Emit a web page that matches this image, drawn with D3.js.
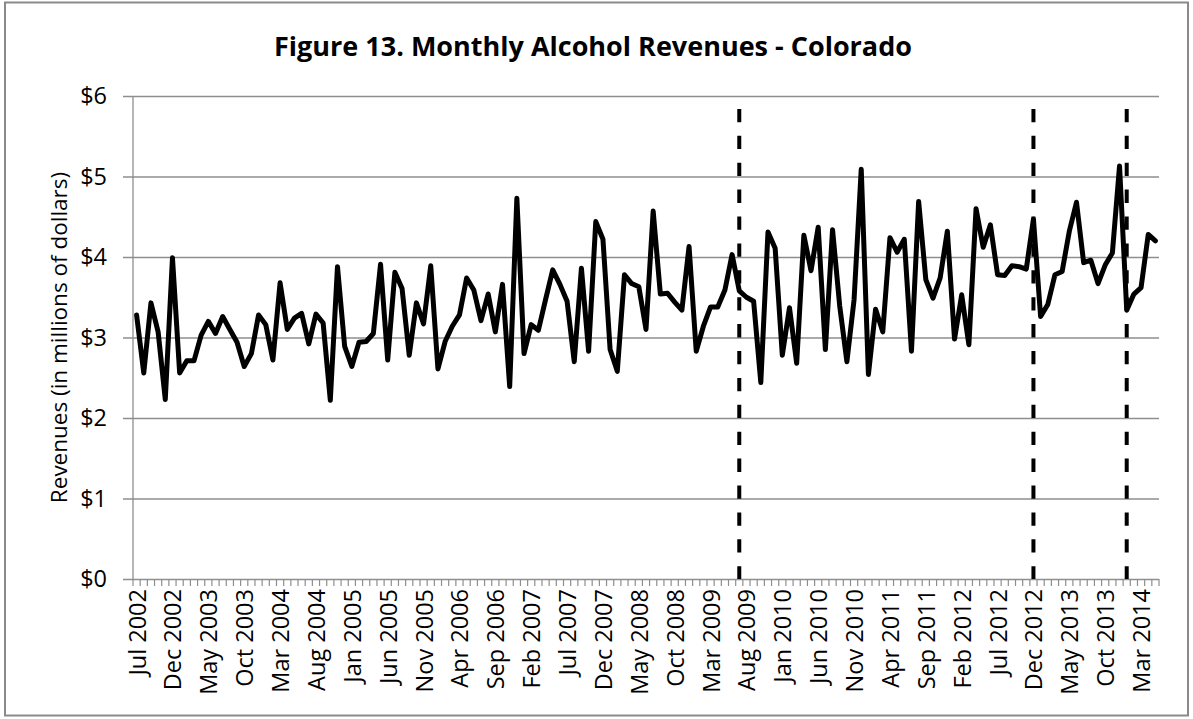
<!DOCTYPE html>
<html><head><meta charset="utf-8">
<script src="https://cdn.jsdelivr.net/npm/d3@7"></script>
<style>html,body{margin:0;padding:0;background:#fff;}svg{display:block;}</style>
</head><body>
<svg id="chart" width="1193" height="719"></svg>
<script>
// ---- data ----
const title = "Figure 13. Monthly Alcohol Revenues - Colorado";
const yTitle = "Revenues (in millions of dollars)";
const startMonth = new Date(2002, 6, 1);   // Jul 2002
const revenues = [
 3.28,2.56,3.43,3.07,2.23,3.99,2.56,2.71,2.71,3.03,3.20,3.05,3.26,3.10,2.94,2.64,2.80,3.28,3.16,2.72,
 3.68,3.10,3.24,3.30,2.92,3.29,3.18,2.22,3.88,2.89,2.64,2.94,2.95,3.05,3.91,2.72,3.81,3.61,2.78,3.43,
 3.17,3.89,2.61,2.95,3.14,3.28,3.74,3.59,3.21,3.54,3.07,3.66,2.39,4.73,2.80,3.16,3.09,3.47,3.84,3.66,
 3.45,2.70,3.86,2.83,4.44,4.22,2.85,2.58,3.78,3.67,3.63,3.10,4.57,3.54,3.55,3.44,3.34,4.13,2.83,3.14,
 3.38,3.38,3.59,4.03,3.58,3.50,3.45,2.44,4.31,4.11,2.78,3.37,2.68,4.27,3.83,4.37,2.85,4.34,3.39,2.70,
 3.47,5.09,2.54,3.35,3.07,4.24,4.06,4.22,2.83,4.69,3.72,3.49,3.74,4.32,2.98,3.53,2.91,4.60,4.12,4.40,
 3.78,3.77,3.89,3.88,3.85,4.47,3.26,3.41,3.78,3.82,4.32,4.68,3.93,3.96,3.67,3.90,4.05,5.13,3.34,3.54,
 3.62,4.28,4.20
];
const tickLabels = ["Jul 2002","Dec 2002","May 2003","Oct 2003","Mar 2004","Aug 2004","Jan 2005","Jun 2005",
 "Nov 2005","Apr 2006","Sep 2006","Feb 2007","Jul 2007","Dec 2007","May 2008","Oct 2008","Mar 2009",
 "Aug 2009","Jan 2010","Jun 2010","Nov 2010","Apr 2011","Sep 2011","Feb 2012","Jul 2012","Dec 2012",
 "May 2013","Oct 2013","Mar 2014"];
const yTicks = [0,1,2,3,4,5,6];
const eventMonths = ["Jul 2009","Dec 2012","Jan 2014"];
const eventTop = 5.84;

// ---- build ----
const fmt = d3.timeFormat("%b %Y");
const months = revenues.map((v,i) => fmt(d3.timeMonth.offset(startMonth, i)));
const data = revenues.map((v,i) => ({m: months[i], v}));

const svg = d3.select("#chart");
const L = 133, R = 1159, T = 96, B = 579;
const font = "'Open Sans', 'Liberation Sans', sans-serif";
const gridCol = "#8e8e8e";

svg.append("rect").attr("x",5).attr("y",2.5).attr("width",1183).attr("height",713)
  .attr("fill","#fff").attr("stroke","#8a8a8a").attr("stroke-width",2);

const x = d3.scaleBand().domain(months).range([L, R]).padding(0);
const y = d3.scaleLinear().domain([0,6]).range([B, T]);

// gridlines + y axis
const yAxis = d3.axisLeft(y).tickValues(yTicks).tickSize(-(R-L)).tickFormat(d => "$" + d).tickPadding(26);
const gy = svg.append("g").attr("transform",`translate(${L},0)`).call(yAxis);
gy.select(".domain").remove();
gy.selectAll(".tick line").attr("stroke",gridCol).attr("stroke-width",1.3).attr("x1",-10);
gy.selectAll(".tick text").attr("font-family",font).attr("font-size",23.5).attr("fill","#000");
svg.append("line").attr("x1",L).attr("x2",L).attr("y1",T).attr("y2",B)
  .attr("stroke",gridCol).attr("stroke-width",1.3);

// x axis minor ticks at category boundaries
const bw = x.bandwidth();
const gx = svg.append("g");
gx.selectAll("line.mt").data(d3.range(months.length+1)).join("line")
  .attr("x1", i => L + i*bw).attr("x2", i => L + i*bw)
  .attr("y1", B).attr("y2", B+7).attr("stroke", gridCol).attr("stroke-width",1.2);
gx.selectAll("text").data(tickLabels).join("text")
  .attr("transform", d => `translate(${x(d)+bw/2},${B+10}) rotate(-90)`)
  .attr("text-anchor","end").attr("dominant-baseline","central")
  .attr("font-family",font).attr("font-size",23.5).attr("fill","#000")
  .text(d => d);

// y title
svg.append("text").attr("transform",`translate(58,${(T+B)/2}) rotate(-90)`)
  .attr("text-anchor","middle").attr("dominant-baseline","central")
  .attr("font-family",font).attr("font-size",22.5).attr("fill","#000").text(yTitle);

// title
svg.append("text").attr("x",593).attr("y",45).attr("text-anchor","middle")
  .attr("dominant-baseline","central").attr("font-family",font).attr("font-weight","bold")
  .attr("font-size",27).attr("fill","#000").text(title);

// series line
const line = d3.line().x(d => x(d.m) + bw/2).y(d => y(d.v));
svg.append("path").datum(data).attr("d",line).attr("fill","none")
  .attr("stroke","#000").attr("stroke-width",5).attr("stroke-linejoin","round").attr("stroke-linecap","round");

// event dashed lines
svg.selectAll("line.ev").data(eventMonths).join("line").attr("class","ev")
  .attr("x1", d => x(d)+bw/2).attr("x2", d => x(d)+bw/2)
  .attr("y1", y(eventTop)).attr("y2", y(0))
  .attr("stroke","#000").attr("stroke-width",4).attr("stroke-dasharray","13.3,13.6");
</script>
</body></html>
